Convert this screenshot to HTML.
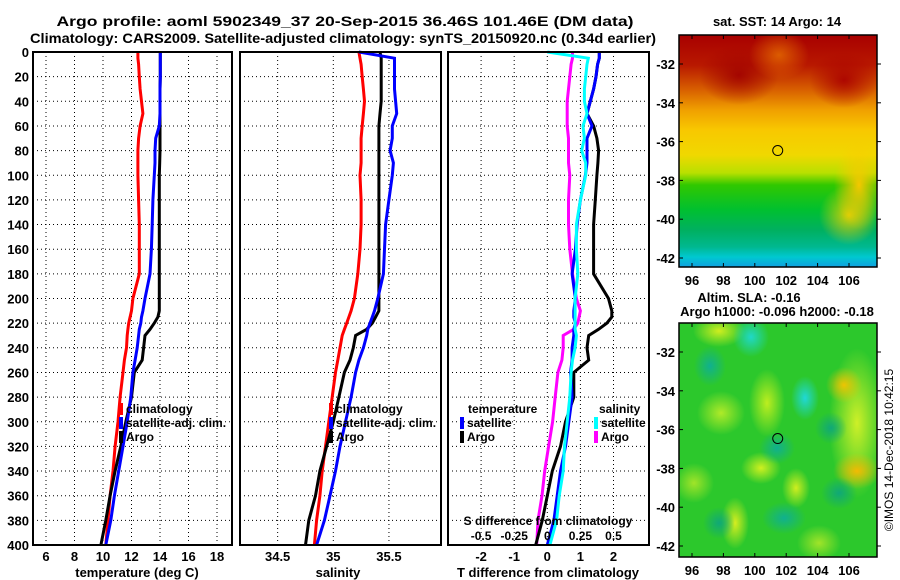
<!DOCTYPE html>
<html><head><meta charset="utf-8">
<style>
html,body{margin:0;padding:0;background:#fff;}
svg{display:block;font-family:"Liberation Sans",Arial,sans-serif;font-weight:bold;}
.map{position:absolute;}
</style></head>
<body>
<div style="position:relative;width:900px;height:580px;overflow:hidden;">
<div class="map" style="left:679px;top:35px;width:198px;height:232px;background:
radial-gradient(ellipse 25px 45px at 180px 150px, rgba(255,200,0,0.95), rgba(255,200,0,0) 100%),
radial-gradient(ellipse 30px 30px at 170px 180px, rgba(240,210,0,0.9), rgba(240,210,0,0) 100%),
radial-gradient(ellipse 30px 25px at 100px 20px, rgba(230,110,0,0.8), rgba(230,110,0,0) 100%),
radial-gradient(ellipse 40px 30px at 60px 40px, rgba(160,0,0,0.9), rgba(160,0,0,0) 100%),
radial-gradient(ellipse 35px 28px at 165px 45px, rgba(170,0,0,0.9), rgba(170,0,0,0) 100%),
linear-gradient(to bottom,#a80000 0px,#b81800 30px,#d86000 55px,#f0a000 75px,#f8c800 95px,#f0d800 120px,#b8e000 138px,#30c800 150px,#00c030 175px,#00b060 195px,#00b890 212px,#00c8d0 222px,#10a0e0 232px);"></div>
<div class="map" style="left:679px;top:323px;width:198px;height:234px;background:
radial-gradient(ellipse 18px 20px at 72px 14px, #20d8c8, rgba(20,176,120,0) 100%),
radial-gradient(ellipse 16px 20px at 31px 43px, #10b090, rgba(20,160,110,0) 100%),
radial-gradient(ellipse 14px 22px at 126px 75px, #20d8d8, rgba(20,176,140,0) 100%),
radial-gradient(ellipse 18px 16px at 98px 125px, #10b090, rgba(20,160,110,0) 100%),
radial-gradient(ellipse 22px 16px at 105px 195px, #10b090, rgba(20,160,110,0) 100%),
radial-gradient(ellipse 16px 16px at 152px 105px, #10a878, rgba(20,160,110,0) 100%),
radial-gradient(ellipse 18px 16px at 160px 170px, #10a878, rgba(20,160,110,0) 100%),
radial-gradient(ellipse 16px 16px at 40px 200px, #10a878, rgba(20,160,110,0) 100%),
radial-gradient(ellipse 18px 18px at 165px 62px, rgba(245,195,0,0.95), rgba(240,220,0,0) 100%),
radial-gradient(ellipse 24px 18px at 178px 148px, rgba(250,185,0,0.95), rgba(240,220,0,0) 100%),
radial-gradient(ellipse 28px 75px at 178px 100px, rgba(215,242,40,0.95), rgba(200,240,40,0) 100%),
radial-gradient(ellipse 18px 34px at 88px 80px, rgba(205,242,30,0.9), rgba(200,240,30,0) 100%),
radial-gradient(ellipse 24px 22px at 42px 90px, rgba(190,238,40,0.9), rgba(180,235,40,0) 100%),
radial-gradient(ellipse 20px 16px at 82px 145px, rgba(225,245,30,0.9), rgba(220,245,30,0) 100%),
radial-gradient(ellipse 14px 26px at 56px 200px, rgba(235,242,30,0.9), rgba(230,240,30,0) 100%),
radial-gradient(ellipse 14px 20px at 117px 165px, rgba(225,242,30,0.9), rgba(220,240,30,0) 100%),
radial-gradient(ellipse 26px 16px at 40px 8px, rgba(225,242,30,0.9), rgba(220,240,30,0) 100%),
radial-gradient(ellipse 20px 20px at 15px 160px, rgba(190,235,40,0.8), rgba(180,235,40,0) 100%),
radial-gradient(ellipse 22px 18px at 140px 220px, rgba(190,235,40,0.8), rgba(180,235,40,0) 100%),
#2cc82c;"></div>
<svg id="chart" width="900" height="580" viewBox="0 0 900 580" style="position:absolute;left:0;top:0;">
<g id="g"></g>
</svg>
</div>
<script>
const depths   = [0,5,10,20,30,40,50,60,70,80,90,100,120,140,160,180,200,210,215,220,225,230,240,250,260,280,300,320,340,360,380,400];
const climT    = [12.45,12.45,12.5,12.55,12.6,12.7,12.8,12.6,12.5,12.45,12.45,12.45,12.5,12.55,12.55,12.55,12.1,12.0,11.9,11.8,11.75,11.7,11.65,11.5,11.4,11.2,11.05,10.85,10.7,10.5,10.35,10.2];
const satT     = [14.02,14.02,14.02,14.02,14.0,14.0,14.0,13.95,13.7,13.65,13.65,13.6,13.5,13.45,13.4,13.3,12.95,12.8,12.7,12.65,12.55,12.5,12.4,12.25,12.1,11.95,11.7,11.4,11.1,10.8,10.55,10.2];
const argoT    = [14.02,14.02,14.02,14.02,14.0,14.0,14.0,14.0,14.0,14.0,13.98,13.95,13.95,13.95,13.95,13.95,13.95,13.95,13.85,13.6,13.3,12.95,12.85,12.75,12.2,12.0,11.6,11.25,10.85,10.5,10.2,9.85];
const climS    = [35.23,35.24,35.25,35.26,35.27,35.28,35.27,35.26,35.25,35.25,35.25,35.24,35.25,35.25,35.24,35.22,35.19,35.16,35.14,35.12,35.1,35.08,35.06,35.04,35.02,34.99,34.96,34.93,34.9,34.88,34.85,34.83];
const satS     = [35.23,35.55,35.55,35.55,35.55,35.56,35.57,35.53,35.53,35.51,35.54,35.53,35.5,35.47,35.46,35.45,35.4,35.37,35.35,35.33,35.31,35.3,35.27,35.23,35.2,35.16,35.11,35.06,35.02,34.97,34.92,34.85];
const argoS    = [35.42,35.43,35.43,35.43,35.43,35.43,35.42,35.41,35.41,35.41,35.41,35.41,35.41,35.41,35.41,35.41,35.41,35.41,35.38,35.35,35.3,35.2,35.18,35.15,35.1,35.05,35.0,34.94,34.88,34.84,34.78,34.75];
const depthTicks = [0,20,40,60,80,100,120,140,160,180,200,220,240,260,280,300,320,340,360,380,400];
const tempTicks  = [6,8,10,12,14,16,18];
const salTicks   = [34.5,35,35.5];
const salTickLabels = ["34.5","35","35.5"];
const tdiffTicks = [-2,-1,0,1,2];
const sdiffTicks = [-0.5,-0.25,0,0.25,0.5];
const sdiffTickLabels = ["-0.5","-0.25","0","0.25","0.5"];
const lonTicks = [96,98,100,102,104,106];
const latTicks = [-32,-34,-36,-38,-40,-42];
const argoLon = 101.46, argoLat = -36.46;

const NS="http://www.w3.org/2000/svg";
const g=document.getElementById('g');
function el(tag,attrs,parent){const e=document.createElementNS(NS,tag);for(const k in attrs)e.setAttribute(k,attrs[k]);(parent||g).appendChild(e);return e;}
function txt(x,y,s,anchor,size,name,extra){const t=el('text',Object.assign({x:x,y:y,'text-anchor':anchor||'start','font-size':size||13,fill:'#000'},extra||{}));t.textContent=s;


return t;}

const yD=d=>52+d*1.2325;
const xT=t=>46+(t-6)*14.25;
const xS=s=>333.3+(s-35)*111.3;
const xDT=t=>547.3+t*33.1;
const xDS=s=>xDT(s*4);
const xLon=l=>692+(l-96)*15.7;
const yLat=l=>64+(-32-l)*19.4;

const panels=[{x0:33,x1:232,name:'temperature-panel'},{x0:240,x1:441,name:'salinity-panel'},{x0:448,x1:649,name:'difference-panel'}];
panels.forEach((p,i)=>{
  depthTicks.forEach(d=>{const l=el('line',{x1:p.x0,x2:p.x1,y1:yD(d),y2:yD(d),stroke:'#000','stroke-width':1,'stroke-dasharray':'1,3'});
  
  });
  const vx = i===0?tempTicks.map(xT):i===1?salTicks.map(xS):tdiffTicks.map(xDT);
  vx.forEach(x=>{const l=el('line',{x1:x,x2:x,y1:52,y2:545,stroke:'#000','stroke-width':1,'stroke-dasharray':'1,3'});
  
  });
});
function series(xs,xf,color,name){
  const pts=depths.map((d,i)=>xf(xs[i]).toFixed(1)+','+yD(d).toFixed(1)).join(' ');
  const pl=el('polyline',{points:pts,fill:'none',stroke:color,'stroke-width':3,'stroke-linejoin':'miter'});
  
  
}
series(climT,xT,'#ff0000','climatology-temperature-line');
series(argoT,xT,'#000000','argo-temperature-line');
series(satT,xT,'#0000ff','satellite-temperature-line');
series(climS,xS,'#ff0000','climatology-salinity-line');
series(argoS,xS,'#000000','argo-salinity-line');
series(satS,xS,'#0000ff','satellite-salinity-line');
const dSatT=satT.map((v,i)=>v-climT[i]), dArgoT=argoT.map((v,i)=>v-climT[i]);
const dSatS=satS.map((v,i)=>v-climS[i]), dArgoS=argoS.map((v,i)=>v-climS[i]);
series(dArgoS,xDS,'#ff00ff','argo-salinity-difference-line');
series(dArgoT,xDT,'#000000','argo-temperature-difference-line');
series(dSatT,xDT,'#0000ff','satellite-temperature-difference-line');
series(dSatS,xDS,'#00ffff','satellite-salinity-difference-line');
panels.forEach(p=>{const r=el('rect',{x:p.x0,y:52,width:p.x1-p.x0,height:493,fill:'none',stroke:'#000','stroke-width':2});

});
depthTicks.forEach(d=>txt(29,yD(d)+5,String(d),'end',13,'depth-tick-label'));
tempTicks.forEach(t=>txt(xT(t),561,String(t),'middle',13,'temperature-tick-label'));
salTicks.forEach((s,i)=>txt(xS(s),561,salTickLabels[i],'middle',13,'salinity-tick-label'));
tdiffTicks.forEach(t=>txt(xDT(t),561,String(t),'middle',13,'t-difference-tick-label'));
sdiffTicks.forEach((s,i)=>txt(xDS(s),540,sdiffTickLabels[i],'middle',12,'s-difference-tick-label'));
txt(137,577,'temperature (deg C)','middle',13,'temperature-axis-title');
txt(338,577,'salinity','middle',13,'salinity-axis-title');
txt(548,577,'T difference from climatology','middle',13,'t-difference-axis-title');
txt(548,525,'S difference from climatology','middle',12,'s-difference-axis-title');
txt(345,26,'Argo profile: aoml 5902349_37 20-Sep-2015 36.46S 101.46E (DM data)','middle',14,'figure-title',{textLength:577,lengthAdjust:'spacingAndGlyphs'});
txt(343,43,'Climatology: CARS2009. Satellite-adjusted climatology: synTS_20150920.nc (0.34d earlier)','middle',14,'figure-subtitle',{textLength:626,lengthAdjust:'spacingAndGlyphs'});
function leg(x,y,color,label,name){const r=el('rect',{x:x,y:y-10,width:4,height:12,fill:color});


txt(x+7,y,label,'start',12,name);}
[[119,'climatology','#ff0000'],[119,'satellite-adj. clim.','#0000ff'],[119,'Argo','#000000']].forEach((a,i)=>leg(a[0],413+i*14,a[2],a[1],'temperature-legend-entry'));
[[329,'climatology','#ff0000'],[329,'satellite-adj. clim.','#0000ff'],[329,'Argo','#000000']].forEach((a,i)=>leg(a[0],413+i*14,a[2],a[1],'salinity-legend-entry'));
txt(468,413,'temperature','start',12,'difference-legend-temperature-heading');
leg(460,427,'#0000ff','satellite','difference-legend-entry');
leg(460,441,'#000000','Argo','difference-legend-entry');
txt(599,413,'salinity','start',12,'difference-legend-salinity-heading');
leg(594,427,'#00ffff','satellite','difference-legend-entry');
leg(594,441,'#ff00ff','Argo','difference-legend-entry');
[[35,267,'sst-map'],[323,557,'sla-map']].forEach(m=>{
  const r=el('rect',{x:679,y:m[0],width:198,height:m[1]-m[0],fill:'none',stroke:'#000','stroke-width':1.5});
  
  
  const off=m[0]-35;
  lonTicks.forEach(l=>{const x=xLon(l);
    el('line',{x1:x,x2:x,y1:m[1],y2:m[1]-4,stroke:'#000'});el('line',{x1:x,x2:x,y1:m[0],y2:m[0]+4,stroke:'#000'});
    txt(x,m[1]+18,String(l),'middle',13,m[2]+'-lon-label');});
  latTicks.forEach(l=>{const y=yLat(l)+off;
    el('line',{x1:679,x2:683,y1:y,y2:y,stroke:'#000'});el('line',{x1:877,x2:881,y1:y,y2:y,stroke:'#000'});
    txt(675,y+5,String(l),'end',13,m[2]+'-lat-label');});
  const c=el('circle',{cx:xLon(argoLon),cy:yLat(argoLat)+off,r:5,fill:'none',stroke:'#000','stroke-width':1});
  
  
});
txt(777,26,'sat. SST: 14 Argo: 14','middle',13,'sst-map-title');
txt(749,302,'Altim. SLA: -0.16','middle',13,'sla-map-title');
txt(777,316,'Argo h1000: -0.096 h2000: -0.18','middle',13,'sla-map-subtitle');
txt(0,0,'©IMOS 14-Dec-2018 10:42:15','middle',12,'imos-credit',{transform:'translate(893,450) rotate(-90)',"font-weight":"normal"});
</script>
</body></html>
